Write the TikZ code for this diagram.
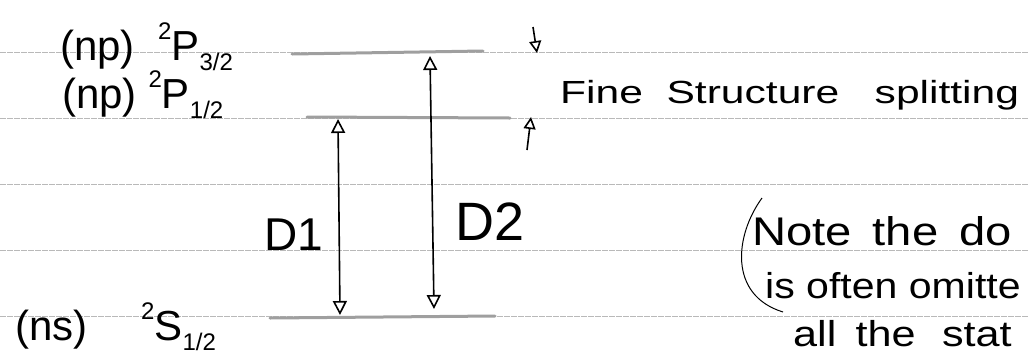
\documentclass[tikz,border=0pt]{standalone}
\usepackage{fontspec}
\usepackage{graphicx}
\setmainfont{Liberation Sans}
\usetikzlibrary{arrows.meta}
\newcommand\mysup[1]{\raisebox{0.5em}{\fontsize{24}{24}\selectfont #1}}
\newcommand\mysub[1]{\raisebox{-0.25em}{\fontsize{24}{24}\selectfont #1}}
\begin{document}
\begin{tikzpicture}[x=1pt,y=-1pt,
  rule/.style={gray!55,line width=0.7pt,dash pattern=on 6pt off 1pt},
  level/.style={gray!75,line width=3pt,line cap=round},
  trans/.style={line width=1.6pt,{Triangle[open,length=14pt,width=14pt]}-{Triangle[open,length=14pt,width=14pt]}},
  marker/.style={line width=1.6pt,-{Triangle[open,length=12pt,width=12pt]}},
  lbl/.style={inner sep=0pt,anchor=base west,font=\fontsize{42}{44}\selectfont},
  hand/.style={inner sep=0pt,anchor=base west,font=\fontsize{36}{38}\selectfont}]
\useasboundingbox (0,0) rectangle (1029,360);
\clip (0,0) rectangle (1029,360);
% ruled lines
\foreach \yy in {52,118,184,250,316} \draw[rule] (0,\yy) -- (1029,\yy);
% energy levels
\coordinate (p32a) at (292,54);
\coordinate (p32b) at (483,51);
\coordinate (p12a) at (307,117);
\coordinate (p12b) at (510,118);
\coordinate (s12a) at (270,318);
\coordinate (s12b) at (495,316);
\draw[level] (p32a) -- (p32b);
\draw[level] (p12a) -- (p12b);
\draw[level] (s12a) -- (s12b);
% transitions
\coordinate (d1top) at (338,119);
\coordinate (d1bot) at (340,315);
\coordinate (d2top) at (430,56);
\coordinate (d2bot) at (434,309);
\draw[trans] (d1bot) -- (d1top);
\draw[trans] (d2bot) -- (d2top);
% fine structure markers
\coordinate (m1s) at (533,27);
\coordinate (m1e) at (537,53);
\coordinate (m2s) at (527,150);
\coordinate (m2e) at (531,117);
\draw[marker] (m1s) -- (m1e);
\draw[marker] (m2s) -- (m2e);
% labels
\node[lbl] (lp32) at (60,60) {(np)\;\;\mysup{2}P\mysub{3/2}};
\node[lbl] (lp12) at (62,108) {(np)\;\mysup{2}P\mysub{1/2}};
\node[lbl] (ls12) at (15,340) {(ns)\;\;\;\;\,\mysup{2}S\mysub{1/2}};
\node[lbl,font=\fontsize{46}{48}\selectfont] (ld1) at (264,250) {D1};
\node[lbl,font=\fontsize{54}{56}\selectfont] (ld2) at (455,240) {D2};
\node[hand,font=\fontsize{32}{34}\selectfont] (fine) at (560,103) {\scalebox{1.33}[1]{Fine\; Structure\;\; splitting}};
% note
\draw[line width=1pt] (762,198) .. controls (735,235) and (728,295) .. (783,312);
\node[hand,font=\fontsize{40}{42}\selectfont] (n1) at (752,245) {\scalebox{1.18}[1]{Note\, the\, do}};
\node[hand] (n2) at (765,298) {\scalebox{1.14}[1]{is often omitte}};
\node[hand] (n3) at (793,346) {\scalebox{1.2}[1]{all\, the\,\, stat}};
\end{tikzpicture}
\end{document}
